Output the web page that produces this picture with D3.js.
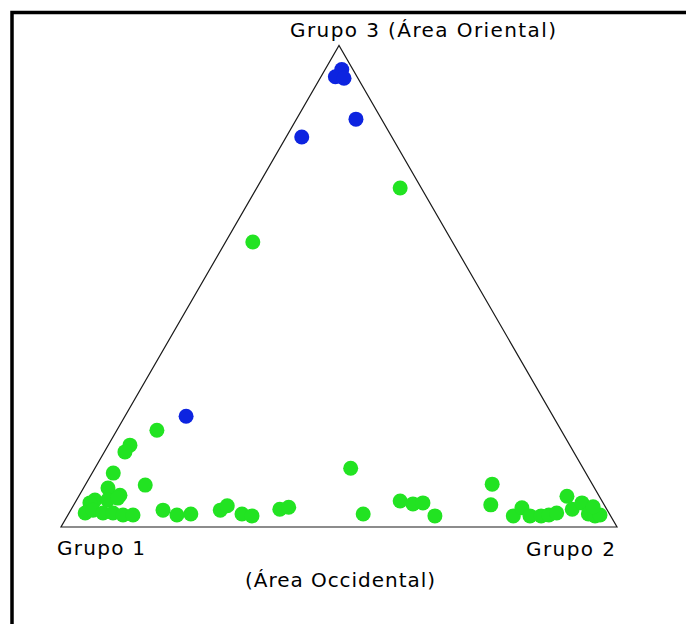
<!DOCTYPE html>
<html>
<head>
<meta charset="utf-8">
<script src="https://cdn.jsdelivr.net/npm/d3@7"></script>
<style>
  html, body { margin: 0; padding: 0; background: #fff; }
  svg { display: block; }
  text { font-family: "DejaVu Sans", Verdana, sans-serif; fill: #000; }
</style>
</head>
<body>
<svg id="chart" width="686" height="624"></svg>
<script>
// Vertex labels
const vertexLabels = ["Grupo 1", "Grupo 2", "Grupo 3 (Área Oriental)"];
const bottomLabel = "(Área Occidental)";

// Compositions [Grupo 1, Grupo 2, Grupo 3] in %
const blueSeries = [
  [2.0, 3.0, 95.0], [3.9, 2.6, 93.5], [2.5, 4.3, 93.2],
  [4.6, 10.7, 84.7], [16.2, 2.8, 81.0], [66.0, 11.0, 23.0]
];
const greenSeries = [
  [3.8, 25.8, 70.4], [35.9, 4.9, 59.2], [72.7, 7.2, 20.1], [79.1, 3.9, 17.0],
  [80.7, 3.7, 15.6], [85.0, 3.8, 11.2], [80.5, 10.8, 8.7], [87.5, 4.4, 8.1],
  [86.1, 7.3, 6.6], [91.1, 3.3, 5.6], [92.3, 2.7, 5.0], [88.8, 5.6, 5.6],
  [86.8, 7.2, 6.0], [94.2, 2.9, 2.9], [92.5, 4.0, 3.5], [91.0, 6.1, 2.9],
  [89.2, 7.9, 2.9], [87.6, 9.9, 2.5], [85.8, 11.7, 2.5], [79.9, 16.6, 3.5],
  [77.9, 19.6, 2.5], [75.3, 22.0, 2.7], [69.6, 26.9, 3.5], [67.9, 27.7, 4.4],
  [66.1, 31.2, 2.7], [64.5, 33.2, 2.3], [58.8, 37.5, 3.7], [57.0, 38.9, 4.1],
  [41.8, 46.0, 12.2], [44.3, 53.0, 2.7], [36.3, 58.3, 5.4], [34.3, 60.9, 4.8],
  [32.4, 62.6, 5.0], [31.6, 66.1, 2.3], [18.0, 73.1, 8.9], [20.4, 75.0, 4.6],
  [17.5, 80.2, 2.3], [15.1, 80.9, 4.0], [14.5, 83.2, 2.3], [12.5, 85.2, 2.3],
  [11.0, 86.5, 2.5], [9.4, 87.7, 2.9], [5.8, 87.8, 6.4], [6.2, 90.1, 3.7],
  [3.8, 91.2, 5.0], [3.8, 93.5, 2.7], [2.8, 94.9, 2.3], [1.8, 95.7, 2.5],
  [2.2, 93.6, 4.2]
];

const svg = d3.select("#chart");
const H = Math.sqrt(3) / 2;
const x = d3.scaleLinear().domain([0, 1]).range([61, 617]);
const y = d3.scaleLinear().domain([0, H]).range([527, 45.5]);

function project(d) {
  const s = d[0] + d[1] + d[2];
  const b = d[1] / s, c = d[2] / s;
  return [x(b + c / 2), y(c * H)];
}

// frame (top and left edges)
svg.append("path")
  .attr("d", "M12,624 L12,12.5 L686,12.5")
  .attr("fill", "none").attr("stroke", "#000").attr("stroke-width", 3.5);

// triangle
const verts = [[100, 0, 0], [0, 100, 0], [0, 0, 100]].map(project);
svg.append("path")
  .attr("d", d3.line()(verts) + "Z")
  .attr("fill", "none").attr("stroke", "#1a1a1a").attr("stroke-width", 1.2);

// points
svg.append("g").selectAll("circle").data(greenSeries).join("circle")
  .attr("cx", d => project(d)[0]).attr("cy", d => project(d)[1])
  .attr("r", 7.5).attr("fill", "#22e322");
svg.append("g").selectAll("circle").data(blueSeries).join("circle")
  .attr("cx", d => project(d)[0]).attr("cy", d => project(d)[1])
  .attr("r", 7.5).attr("fill", "#0d24e0");

// labels
const fs = 20;
svg.append("text").attr("x", 290).attr("y", 37).attr("font-size", fs)
  .attr("textLength", 266).attr("lengthAdjust", "spacing").text(vertexLabels[2]);
svg.append("text").attr("x", 57).attr("y", 555).attr("font-size", fs)
  .attr("textLength", 88).attr("lengthAdjust", "spacing").text(vertexLabels[0]);
svg.append("text").attr("x", 526).attr("y", 556).attr("font-size", fs)
  .attr("textLength", 89).attr("lengthAdjust", "spacing").text(vertexLabels[1]);
svg.append("text").attr("x", 245).attr("y", 587).attr("font-size", fs)
  .attr("textLength", 190).attr("lengthAdjust", "spacing").text(bottomLabel);
</script>
</body>
</html>
